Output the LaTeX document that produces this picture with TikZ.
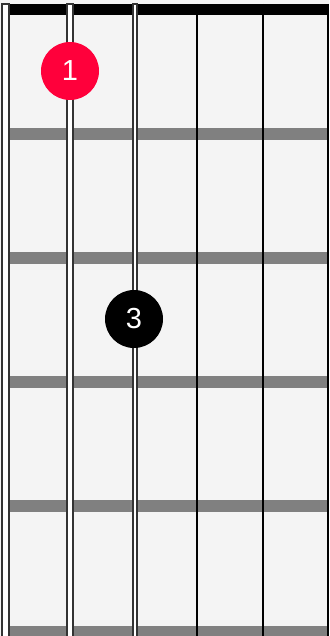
\documentclass[tikz,border=0pt]{standalone}
\usepackage{fontspec}
\setmainfont{Liberation Sans}
\usetikzlibrary{positioning}
\definecolor{Board}{HTML}{F4F4F4}
\definecolor{Fret}{HTML}{808080}
\definecolor{Wound}{HTML}{333333}
\definecolor{Nut}{HTML}{000000}
\definecolor{Root}{HTML}{FF003B}

\begin{document}
\begin{tikzpicture}[
  x=1pt, y=-1pt,
  fretbar/.style={
    fill=Fret
  },
  woundstring/.style={
    draw=Wound,
    line width=2pt,
    fill=white
  },
  plainstring/.style={
    draw=Nut,
    line width=2pt
  },
  finger/.style={
    circle,
    minimum size=58pt,
    inner sep=0pt,
    text=white,
    font=\fontsize{29}{29}\selectfont
  }
]

\useasboundingbox (0,0) rectangle (329,636);
\fill[Board] (0,0) rectangle (329,636);

% frets
\foreach \y in {128, 252, 376, 500, 626}
  \fill[fretbar] (10,\y) rectangle (329,\y+12);

% nut
\fill[Nut] (10,4) rectangle (329,15);

% strings
\draw[woundstring] (2,4) rectangle (9,640);
\draw[woundstring] (67,4) rectangle (73,640);
\draw[woundstring] (133,4) rectangle (137,640);
\draw[plainstring] (197,4) -- (197,636);
\draw[plainstring] (263,4) -- (263,636);
\draw[plainstring] (328,4) -- (328,636);

% fingers
\node[finger, fill=Root] (finger1) at (70,71) {1};
\node[finger, fill=Nut] (finger3) at (134,319) {3};

\end{tikzpicture}
\end{document}
